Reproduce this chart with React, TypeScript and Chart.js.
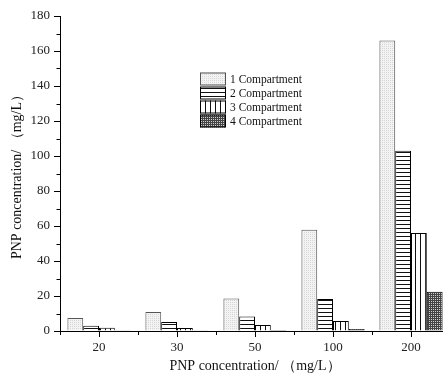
import React, { useEffect, useRef } from 'react';
import { Chart, registerables } from 'chart.js';

Chart.register(...registerables);

// ---- data ----
const categories = ['20', '30', '50', '100', '200'];
const compartment1 = [7.5, 10.9, 18.6, 57.9, 166];
const compartment2 = [3.0, 5.1, 8.3, 18.3, 103];
const compartment3 = [1.8, 1.7, 3.4, 5.7, 56];
const compartment4 = [0.4, 0.4, 0.6, 1.2, 22.5];
const seriesLabels = ['1 Compartment', '2 Compartment', '3 Compartment', '4 Compartment'];
const yMin = 0;
const yMax = 180;
const yStep = 20;
const yMinorStep = 10;
const xTitle = 'PNP concentration/ （mg/L）';
const yTitle = 'PNP concentration/ （mg/L）';

const FONT = '"Liberation Serif", "Times New Roman", "DejaVu Serif", serif';

function makePattern(kind: number): CanvasPattern | string {
  const c = document.createElement('canvas');
  let ctx: CanvasRenderingContext2D | null;
  if (kind === 0) {
    c.width = 2; c.height = 2;
    ctx = c.getContext('2d')!;
    ctx.fillStyle = '#f3f3f3';
    ctx.fillRect(0, 0, 2, 2);
    ctx.fillStyle = '#d6d6d6';
    ctx.fillRect(0, 0, 1, 1);
  } else if (kind === 1) {
    c.width = 1; c.height = 4;
    ctx = c.getContext('2d')!;
    ctx.fillStyle = '#ffffff';
    ctx.fillRect(0, 0, 1, 4);
    ctx.fillStyle = '#111111';
    ctx.fillRect(0, 0, 1, 1);
  } else if (kind === 2) {
    c.width = 5; c.height = 1;
    ctx = c.getContext('2d')!;
    ctx.fillStyle = '#ffffff';
    ctx.fillRect(0, 0, 5, 1);
    ctx.fillStyle = '#111111';
    ctx.fillRect(0, 0, 1, 1);
  } else {
    c.width = 2; c.height = 2;
    ctx = c.getContext('2d')!;
    ctx.fillStyle = '#d0d0d0';
    ctx.fillRect(0, 0, 2, 2);
    ctx.fillStyle = '#444444';
    ctx.fillRect(0, 0, 2, 1);
    ctx.fillRect(0, 0, 1, 2);
  }
  const main = document.createElement('canvas').getContext('2d')!;
  return main.createPattern(c, 'repeat') || '#ccc';
}

export default function App() {
  const ref = useRef<HTMLCanvasElement | null>(null);

  useEffect(() => {
    if (!ref.current) return;
    const patterns = [0, 1, 2, 3].map(makePattern);
    const borders = ['#555555', '#000000', '#000000', '#000000'];
    const series = [compartment1, compartment2, compartment3, compartment4];

    const extras = {
      id: 'extras',
      afterDraw(chart: any) {
        const { ctx, chartArea, scales } = chart;
        const y = scales.y;
        const x = scales.x;
        ctx.save();
        ctx.strokeStyle = '#000';
        ctx.lineWidth = 1;
        // minor y ticks
        for (let v = yMin + yMinorStep; v < yMax; v += yStep) {
          const py = Math.round(y.getPixelForValue(v)) + 0.5;
          ctx.beginPath();
          ctx.moveTo(chartArea.left - 3.5, py);
          ctx.lineTo(chartArea.left, py);
          ctx.stroke();
        }
        // minor x ticks at category boundaries
        const n = categories.length;
        for (let i = 0; i <= n; i++) {
          const px = Math.round(x.getPixelForValue(i - 0.5)) + 0.5;
          ctx.beginPath();
          ctx.moveTo(px, chartArea.bottom);
          ctx.lineTo(px, chartArea.bottom + 4);
          ctx.stroke();
        }
        // legend
        const lx = 200;
        const ly = 72.5;
        const bw = 26;
        const bh = 13;
        ctx.font = '11.5px ' + FONT;
        ctx.textBaseline = 'middle';
        ctx.textAlign = 'left';
        for (let i = 0; i < seriesLabels.length; i++) {
          const top = ly + i * 14;
          ctx.fillStyle = patterns[i] as any;
          ctx.fillRect(lx, top, bw, bh);
          ctx.strokeStyle = borders[i];
          ctx.strokeRect(lx + 0.5, top + 0.5, bw - 1, bh - 1);
          ctx.fillStyle = '#111';
          ctx.fillText(seriesLabels[i], lx + bw + 4, top + bh / 2 + 0.5);
        }
        ctx.restore();
      },
    };

    const chart = new Chart(ref.current, {
      type: 'bar',
      data: {
        labels: categories,
        datasets: series.map((d, i) => ({
          label: seriesLabels[i],
          data: d,
          backgroundColor: patterns[i] as any,
          borderColor: borders[i],
          borderWidth: 1,
          borderSkipped: 'bottom',
          barPercentage: 1,
          categoryPercentage: 0.81,
        })),
      },
      options: {
        animation: false,
        responsive: false,
        devicePixelRatio: 1,
        layout: { padding: { left: 0, right: 20, top: 16, bottom: 0 } },
        plugins: {
          legend: { display: false },
          tooltip: { enabled: false },
        },
        scales: {
          x: {
            type: 'category',
            offset: true,
            grid: {
              offset: false,
              drawOnChartArea: false,
              drawTicks: true,
              tickLength: 6,
              color: '#000',
            },
            border: { color: '#000', width: 1 },
            ticks: {
              color: '#222',
              font: { family: FONT, size: 13 },
              padding: 3,
              maxRotation: 0,
            },
            title: {
              display: true,
              text: xTitle,
              color: '#111',
              font: { family: FONT, size: 14 },
              padding: { top: 0, bottom: 4 },
            },
            afterFit: (s: any) => { s.height = 48; },
          },
          y: {
            min: yMin,
            max: yMax,
            ticks: {
              stepSize: yStep,
              color: '#222',
              font: { family: FONT, size: 13 },
              padding: 4,
            },
            grid: {
              drawOnChartArea: false,
              drawTicks: true,
              tickLength: 6,
              color: '#000',
            },
            border: { color: '#000', width: 1 },
            title: {
              display: true,
              text: yTitle,
              color: '#111',
              font: { family: FONT, size: 14 },
              padding: { top: 9, bottom: 0 },
            },
            afterFit: (s: any) => { s.width = 60; },
          },
        },
      },
      plugins: [extras],
    });
    return () => chart.destroy();
  }, []);

  return (
    <div style={{ position: 'fixed', left: 0, top: 0, width: 443, height: 379, overflow: 'hidden', background: '#fff' }}>
      <canvas ref={ref} width={470} height={379} style={{ display: 'block', width: 470, height: 379 }} />
    </div>
  );
}
